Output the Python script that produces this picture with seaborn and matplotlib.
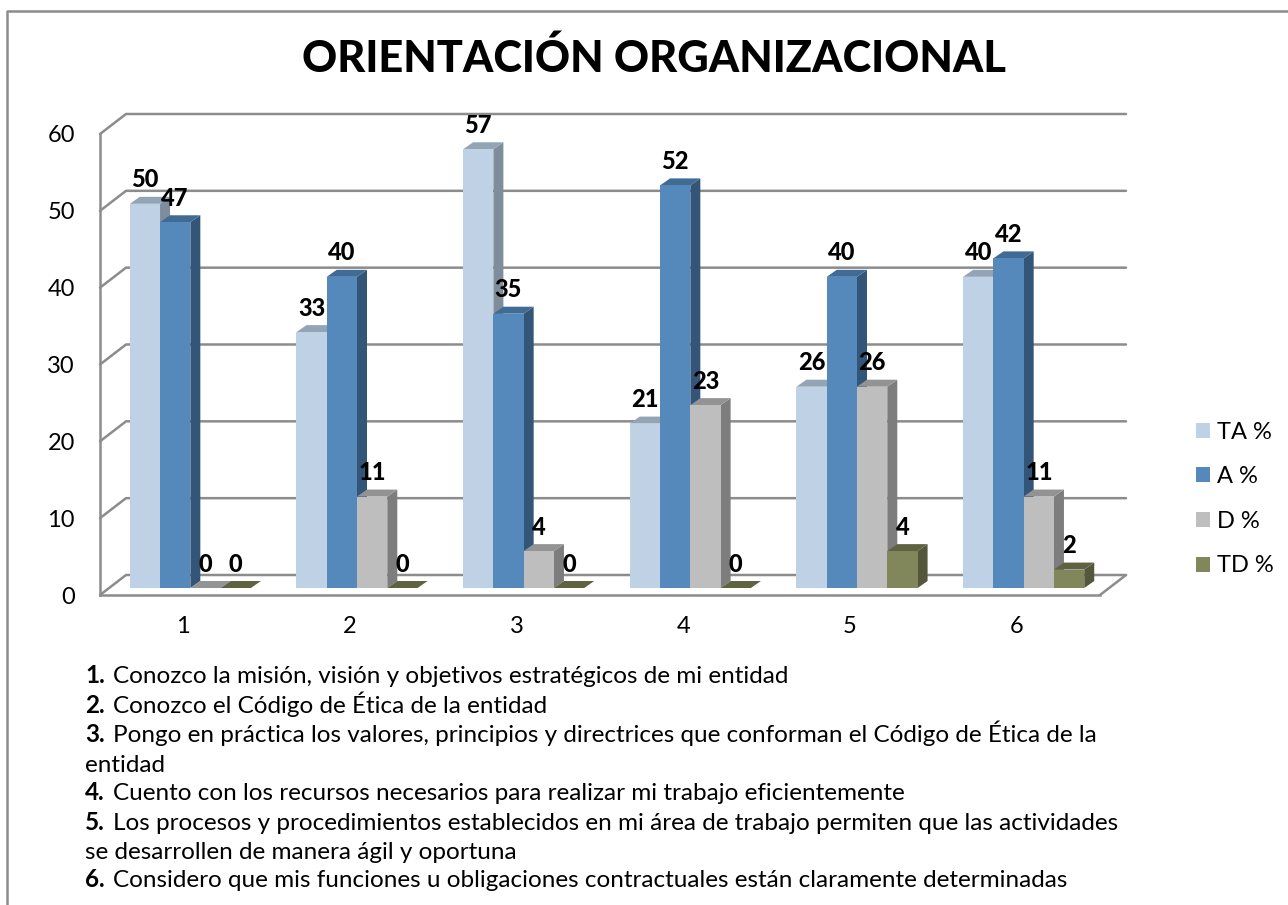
import matplotlib
matplotlib.use("Agg")
import matplotlib.pyplot as plt
from matplotlib.lines import Line2D
from matplotlib.patches import Polygon, Patch
from matplotlib.transforms import Affine2D, IdentityTransform
import pandas as pd
import seaborn as sns

preguntas = ["1", "2", "3", "4", "5", "6"]
series = ["TA %", "A %", "D %", "TD %"]
ta = [50.0, 33.3, 57.1, 21.4, 26.2, 40.5]
a = [47.6, 40.5, 35.7, 52.4, 40.5, 42.9]
d = [0, 11.9, 4.8, 23.8, 26.2, 11.9]
td = [0, 0, 0, 0, 4.8, 2.4]

colores = ["#BFD2E5", "#5588BB", "#BEBEBE", "#82875B"]
color_top = ["#93A5B5", "#3F6B95", "#939393", "#5F6340"]
color_side = ["#7F8C99", "#335678", "#7D7D7D", "#54573A"]
gris = "#8C8C8C"

y_ticks = [0, 10, 20, 30, 40, 50, 60]

titulo = "ORIENTACIÓN ORGANIZACIONAL"
# numero en negrita, texto normal
notas = [
    ("1.", "Conozco la misión, visión y objetivos estratégicos de mi entidad"),
    ("2.", "Conozco el Código de Ética de la entidad"),
    ("3.", "Pongo en práctica los valores, principios y directrices que conforman el Código de Ética de la"),
    ("", "entidad"),
    ("4.", "Cuento con los recursos necesarios para realizar mi trabajo eficientemente"),
    ("5.", "Los procesos y procedimientos establecidos en mi área de trabajo permiten que las actividades"),
    ("", "se desarrollen de manera ágil y oportuna"),
    ("6.", "Considero que mis funciones u obligaciones contractuales están claramente determinadas"),
]
notas_y = [683, 713, 742, 772, 800, 830, 859, 887]

W, H = 1288, 905
sns.set_theme(style="white")
plt.rcParams["font.family"] = ["Lato", "DejaVu Sans"]

df = pd.DataFrame({
    "pregunta": preguntas * 4,
    "serie": [s for s in series for _ in preguntas],
    "valor": ta + a + d + td,
})

fig = plt.figure(figsize=(W / 100, H / 100), dpi=100)
ax = fig.add_axes([100 / W, 1 - 595 / H, 1000 / W, 461 / H])
ax.patch.set_alpha(0)

sns.barplot(data=df, x="pregunta", y="valor", hue="serie", palette=colores, saturation=1,
            width=0.727, errorbar=None, linewidth=0, legend=False, ax=ax)

ax.set_xlim(-0.5, 5.5)
ax.set_ylim(0, 60)
ax.set_yticks(y_ticks)
ax.set_xlabel("")
ax.set_ylabel("")
ax.tick_params(axis="both", length=0, labelsize=17, labelcolor="black")
ax.tick_params(axis="y", pad=18)
ax.tick_params(axis="x", pad=15)
sns.despine(ax=ax, top=True, right=True)
for s in ["left", "bottom"]:
    ax.spines[s].set_color(gris)
    ax.spines[s].set_linewidth(1.8)


def px(x, y):
    return ax.transData.transform((x, y))


# paredes del fondo
pared_dx, pared_dy = 26, 20
for t in y_ticks:
    x0, y0 = px(-0.5, t)
    x1, _ = px(5.5, t)
    ax.add_line(Line2D([x0, x0 + pared_dx, x1 + pared_dx], [y0, y0 + pared_dy, y0 + pared_dy],
                       transform=IdentityTransform(), color=gris, lw=1.8, clip_on=False, zorder=1))
x1, y0 = px(5.5, 0)
ax.add_line(Line2D([x1, x1 + pared_dx], [y0, y0 + pared_dy], transform=IdentityTransform(),
                   color=gris, lw=1.8, clip_on=False, zorder=1))

# caras 3D de cada barra
off_x, off_y = 7, 7
prof_x, prof_y = 10, 7
for i, cont in enumerate(ax.containers):
    for j, bar in enumerate(cont):
        z = 3 + j + i * 0.1
        v = bar.get_height()
        bx0 = bar.get_x()
        bx1 = bx0 + bar.get_width()
        bar.set_transform(ax.transData + Affine2D().translate(off_x, off_y))
        bar.set_clip_on(False)
        bar.set_zorder(z + 0.02)
        xa, ya = px(bx0, v) + (off_x, off_y)
        xb, yb = px(bx1, v) + (off_x, off_y)
        _, yc = px(bx1, 0) + (off_x, off_y)
        top = [(xa, ya), (xb, yb), (xb + prof_x, yb + prof_y), (xa + prof_x, ya + prof_y)]
        side = [(xb, yb), (xb + prof_x, yb + prof_y), (xb + prof_x, yc + prof_y), (xb, yc)]
        ax.add_patch(Polygon(side, closed=True, transform=IdentityTransform(), fc=color_side[i],
                             ec="none", clip_on=False, zorder=z))
        ax.add_patch(Polygon(top, closed=True, transform=IdentityTransform(), fc=color_top[i],
                             ec="none", clip_on=False, zorder=z + 0.01))
        ax.annotate(str(int(v)), xy=(bx0 + bar.get_width() / 2, v), xycoords="data",
                    xytext=(off_x, off_y + 24), textcoords="offset pixels", ha="center", va="center",
                    fontsize=17, fontweight="black", color="black", annotation_clip=False, zorder=50)

ax.set_xlim(-0.5, 5.5)
ax.set_ylim(0, 60)

# leyenda
handles = [Patch(fc=c, ec="none") for c in colores]
fig.legend(handles, series, loc="center left", bbox_to_anchor=(1196 / W, 1 - 499 / H), frameon=False,
           fontsize=17, handlelength=0.6, handleheight=0.6, handletextpad=0.3,
           labelspacing=1.0, borderpad=0, borderaxespad=0, labelcolor="black")

fig.text(654 / W, 1 - 72 / H, titulo, ha="center", va="baseline", fontsize=31.2, fontweight="black", color="black")

for (num, txt), y in zip(notas, notas_y):
    if num:
        fig.text(85 / W, 1 - y / H, num, ha="left", va="baseline", fontsize=17.5, fontweight="bold", color="black")
        fig.text(113 / W, 1 - y / H, txt, ha="left", va="baseline", fontsize=17.5, color="black")
    else:
        fig.text(85 / W, 1 - y / H, txt, ha="left", va="baseline", fontsize=17.5, color="black")

# borde del grafico: solo arriba e izquierda se ven en el recorte
fig.add_artist(Line2D([7 / W, 7 / W, 1], [0, 1 - 11 / H, 1 - 11 / H], transform=fig.transFigure,
                      color=gris, lw=1.8))

fig.savefig("out.png", dpi=100)
